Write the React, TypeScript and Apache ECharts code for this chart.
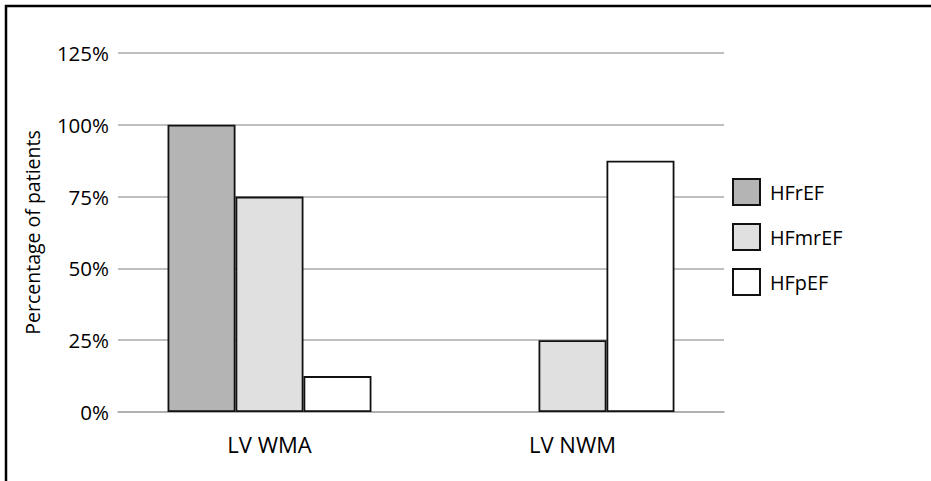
import React, { useEffect, useRef } from "react";
import * as echarts from "echarts";

const categories = ["LV WMA", "LV NWM"];
const seriesNames = ["HFrEF", "HFmrEF", "HFpEF"];
const hfrefValues = [100, 0];
const hfmrefValues = [75, 25];
const hfpefValues = [12.5, 87.5];
const seriesColors = ["#b4b4b4", "#e0e0e0", "#ffffff"];
const yTicks = [0, 25, 50, 75, 100, 125];

const FONT = "'Open Sans', sans-serif";

export default function App() {
  const ref = useRef<HTMLDivElement>(null);
  useEffect(() => {
    if (!ref.current) return;
    const chart = echarts.init(ref.current, undefined, { renderer: "svg" });
    const values = [hfrefValues, hfmrefValues, hfpefValues];
    chart.setOption({
      animation: false,
      backgroundColor: "#ffffff",
      textStyle: { fontFamily: FONT },
      graphic: [
        {
          type: "rect",
          shape: { x: 6, y: 6, width: 1200, height: 800 },
          style: { fill: "none", stroke: "#000", lineWidth: 2.5 },
          silent: true,
        },
      ],
      grid: { left: 118, right: 207, top: 53, bottom: 69 },
      legend: {
        orient: "vertical",
        left: 732,
        top: 178,
        padding: 0,
        icon: "rect",
        itemWidth: 27,
        itemHeight: 26,
        itemGap: 17,
        data: seriesNames,
        textStyle: { fontSize: 19.8, color: "#000", fontFamily: FONT, padding: [0, 0, 0, 5] },
      },
      xAxis: {
        type: "category",
        data: categories,
        axisLine: { show: true, lineStyle: { color: "#ababab", width: 1.5 } },
        axisTick: { show: false },
        axisLabel: { fontSize: 22, color: "#000", margin: 21, fontFamily: FONT },
      },
      yAxis: {
        type: "value",
        min: yTicks[0],
        max: yTicks[yTicks.length - 1],
        interval: 25,
        name: "Percentage of patients",
        nameLocation: "middle",
        nameGap: 76,
        nameTextStyle: { fontSize: 19.5, color: "#000", fontFamily: FONT },
        axisLine: { show: false },
        axisTick: { show: false },
        axisLabel: { fontSize: 20.5, color: "#000", margin: 9, formatter: "{value}%", fontFamily: FONT },
        splitLine: { lineStyle: { color: "#ababab", width: 1.5 } },
      },
      series: seriesNames.map((name, i) => ({
        name,
        type: "bar",
        data: values[i].map((v) =>
          v === 0 ? { value: v, itemStyle: { borderWidth: 0 } } : v
        ),
        barGap: "0%",
        barCategoryGap: "32.7%",
        itemStyle: { color: seriesColors[i], borderColor: "#111", borderWidth: 1.8 },
      })),
    });
    return () => chart.dispose();
  }, []);
  return (
    <div
      ref={ref}
      style={{ position: "absolute", left: 0, top: 0, width: 931, height: 481 }}
    />
  );
}
